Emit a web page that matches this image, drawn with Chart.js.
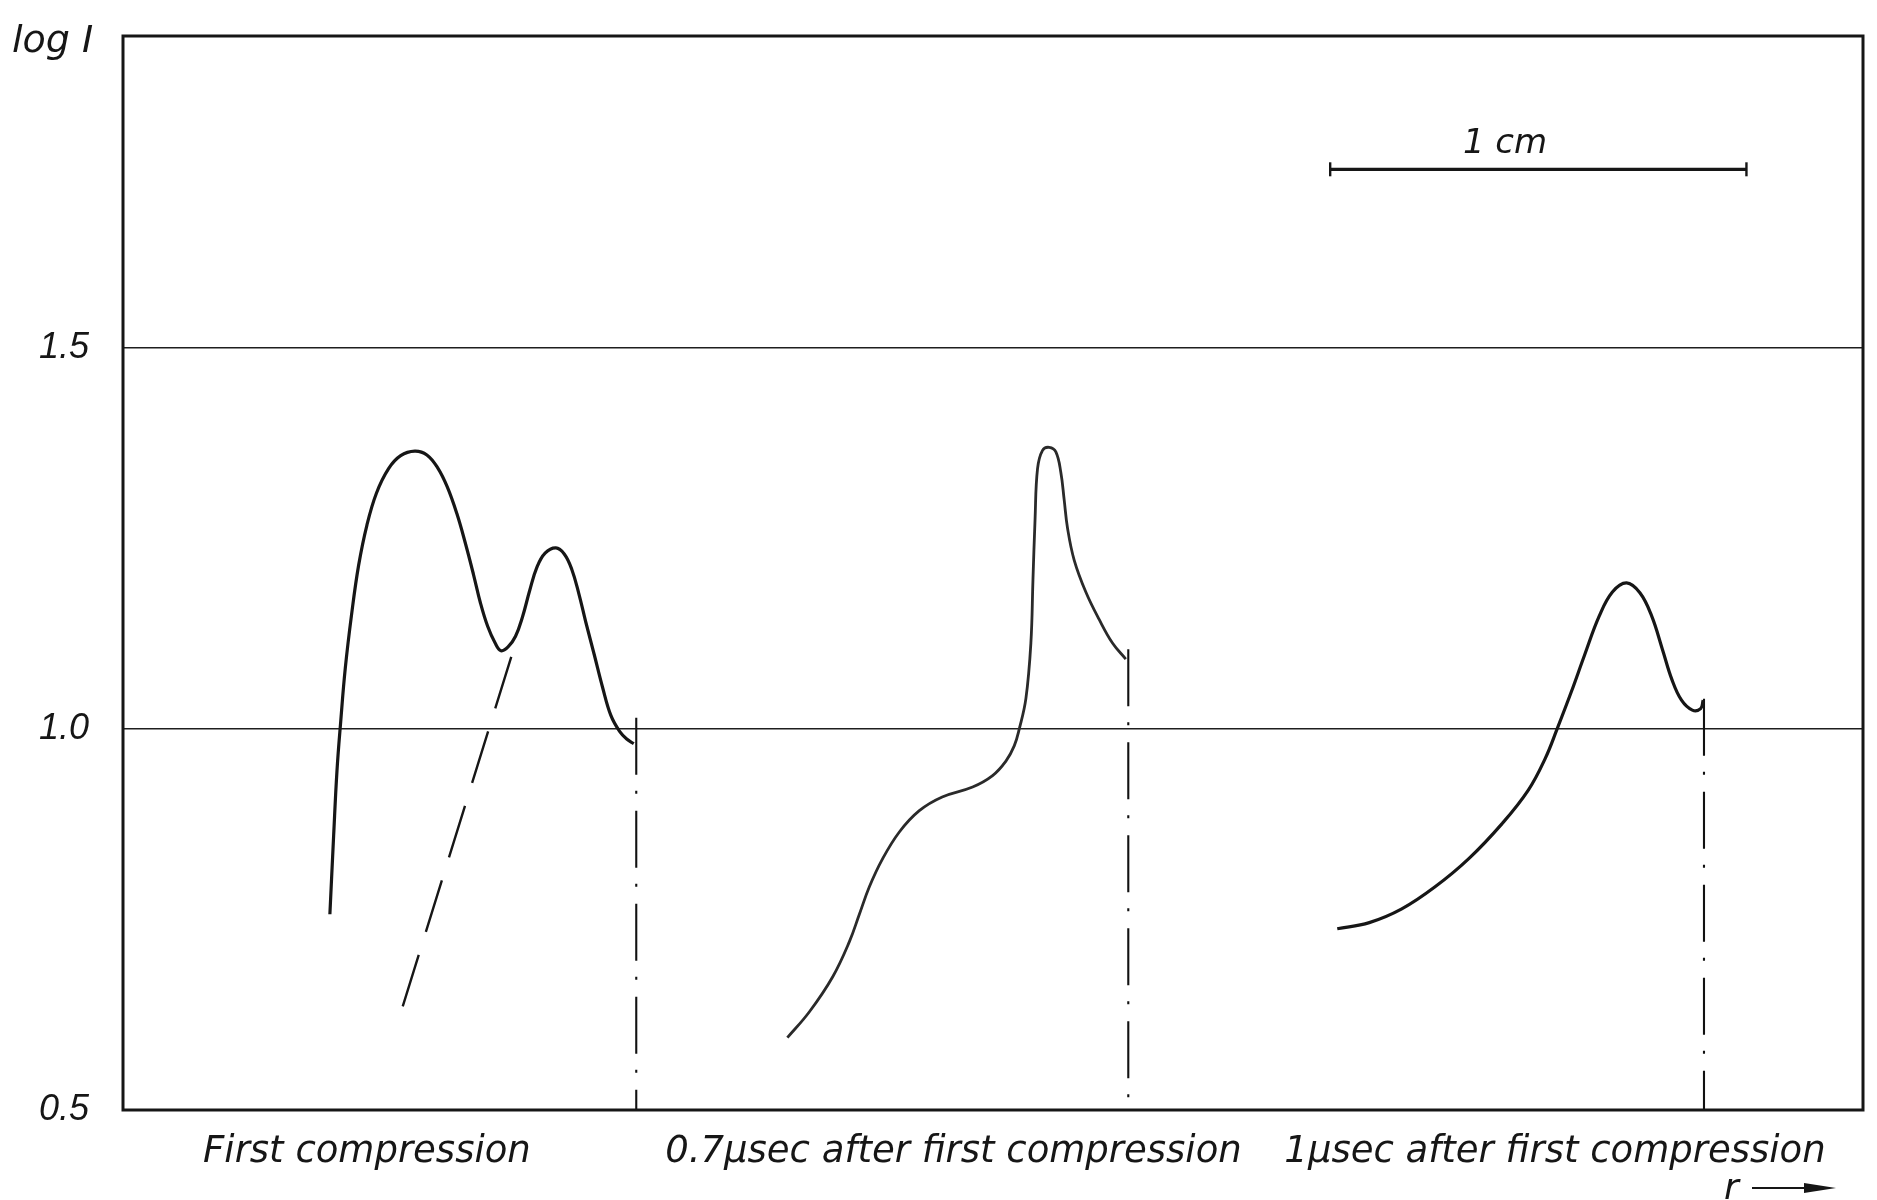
<!DOCTYPE html>
<html><head><meta charset="utf-8">
<script src="https://cdn.jsdelivr.net/npm/chart.js@4/dist/chart.umd.min.js"></script>
<style>html,body{margin:0;padding:0;background:#fff;}#wrap{width:1877px;height:1200px;}</style>
</head><body><div id="wrap"><canvas id="c" width="1877" height="1200"></canvas></div>
<script>
// radius r in mm (1 cm scale bar), log I values
const r1 = [4.97, 5.06, 5.14, 5.23, 5.34, 5.49, 5.66, 5.86, 6.09, 6.38, 6.67, 7.01, 7.30, 7.56, 7.79, 8.02, 8.22, 8.42, 8.59, 8.76, 8.94, 9.08, 9.25, 9.43, 9.60, 9.77, 9.94, 10.14, 10.40, 10.60, 10.78, 10.95, 11.12, 11.32, 11.52, 11.72, 11.93, 12.10, 12.27];
const logI1 = [0.757, 0.860, 0.945, 1.010, 1.080, 1.150, 1.215, 1.268, 1.310, 1.342, 1.359, 1.365, 1.360, 1.343, 1.318, 1.283, 1.245, 1.203, 1.165, 1.135, 1.113, 1.103, 1.108, 1.122, 1.148, 1.182, 1.212, 1.231, 1.238, 1.230, 1.210, 1.178, 1.140, 1.098, 1.055, 1.018, 0.997, 0.987, 0.981];
const extR = [6.72, 9.43];
const extLogI = [0.636, 1.113];
const r2 = [15.96, 16.49, 17.05, 17.45, 17.69, 17.93, 18.24, 18.65, 19.13, 19.68, 20.41, 20.89, 21.21, 21.41, 21.53, 21.69, 21.81, 21.86, 21.91, 21.97, 22.09, 22.25, 22.41, 22.53, 22.61, 22.69, 22.85, 23.13, 23.45, 23.77, 24.09];
const logI2 = [0.595, 0.629, 0.675, 0.721, 0.757, 0.793, 0.829, 0.865, 0.893, 0.911, 0.924, 0.939, 0.958, 0.978, 1.000, 1.040, 1.113, 1.196, 1.275, 1.342, 1.366, 1.370, 1.364, 1.337, 1.301, 1.264, 1.222, 1.180, 1.144, 1.113, 1.092];
const r3 = [29.17, 29.94, 30.72, 31.52, 32.33, 33.13, 33.76, 34.17, 34.45, 34.80, 35.11, 35.46, 35.78, 36.12, 36.44, 36.72, 36.98, 37.21, 37.44, 37.70, 37.90, 37.96];
const logI3 = [0.738, 0.746, 0.764, 0.793, 0.830, 0.876, 0.920, 0.962, 1.000, 1.050, 1.097, 1.148, 1.180, 1.192, 1.179, 1.149, 1.105, 1.065, 1.038, 1.025, 1.027, 1.038];
const dropR = [12.33, 24.15, 37.98];
const dropTop = [1.015, 1.105, 1.04];
const barR = [29.0, 39.0];
const barLogI = 1.735;
const barLabel = '1 cm';
const barLabelR = 33.2;
const yMin = 0.5, yMax = 1.91, xMin = 0, xMax = 41.8;
const yTickValues = [0.5, 1.0, 1.5];
const yTickLabels = ['0.5', '1.0', '1.5'];
const groupCentres = [5.86, 19.95, 34.40];
const groupLabels = ['First compression', '0.7\u00b5sec after first compression', '1\u00b5sec after first compression'];
const yTitle = 'log I';
const xTitle = 'r';

const pts = (xs, ys) => xs.map((x, i) => ({x: x, y: ys[i]}));
const INK = '#161616';
const FONT = 'DejaVu Sans';

const datasets = [
  {data: pts(r1, logI1), borderColor: INK, borderWidth: 3.2, tension: 0.4},
  {data: pts(extR, extLogI), borderColor: INK, borderWidth: 2.4, borderDash: [54, 24]},
  {data: pts(r2, logI2), borderColor: '#2a2a2a', borderWidth: 2.8, tension: 0.4},
  {data: pts(r3, logI3), borderColor: INK, borderWidth: 3.2, tension: 0.4}
];
dropR.forEach((x, i) => datasets.push({
  data: [{x: x, y: dropTop[i]}, {x: x, y: yMin}], borderColor: '#111', borderWidth: 2.1, borderDash: [57, 16, 3, 17]
}));
datasets.push({
  data: pts(barR, barR.map(() => barLogI)), borderColor: INK, borderWidth: 3.2,
  pointStyle: 'line', rotation: 90, pointRadius: 7, pointBorderWidth: 2.4, pointBorderColor: INK
});

const extras = {
  id: 'extras',
  afterDraw(chart) {
    const {ctx, chartArea: a, scales: {x, y}} = chart;
    ctx.save();
    ctx.strokeStyle = INK; ctx.lineWidth = 3;
    ctx.strokeRect(a.left, a.top, a.right - a.left, a.bottom - a.top);
    ctx.fillStyle = INK;
    ctx.font = 'italic 38px "' + FONT + '"';
    ctx.textAlign = 'left'; ctx.textBaseline = 'alphabetic';
    ctx.fillText(yTitle, 12, 52);
    ctx.font = 'italic 34px "' + FONT + '"';
    ctx.textAlign = 'center';
    ctx.fillText(barLabel, x.getPixelForValue(barLabelR), y.getPixelForValue(barLogI) - 16);
    // r arrow
    ctx.font = 'italic 36px "' + FONT + '"';
    ctx.textAlign = 'left';
    ctx.fillText(xTitle, 1724, 1199);
    ctx.lineWidth = 2.2;
    ctx.beginPath(); ctx.moveTo(1752, 1188); ctx.lineTo(1812, 1188); ctx.stroke();
    ctx.beginPath(); ctx.moveTo(1804, 1183); ctx.lineTo(1836, 1188); ctx.lineTo(1804, 1193); ctx.closePath(); ctx.fill();
    ctx.restore();
  }
};

new Chart(document.getElementById('c'), {
  type: 'line',
  data: {datasets: datasets},
  options: {
    responsive: false, animation: false,
    layout: {padding: {top: 36, right: 14, left: 0, bottom: 0}},
    elements: {point: {radius: 0}},
    plugins: {legend: {display: false}, tooltip: {enabled: false}},
    scales: {
      x: {
        type: 'linear', min: xMin, max: xMax,
        afterFit(s) { s.height = 90; s.paddingLeft = 0; s.paddingRight = 0; },
        afterBuildTicks(s) { s.ticks = groupCentres.map(v => ({value: v})); },
        grid: {display: false, drawTicks: false},
        border: {display: false},
        ticks: {autoSkip: false, maxRotation: 0, padding: 20, color: INK,
          font: {family: FONT, size: 37, style: 'italic'},
          callback: (v, i) => groupLabels[i]}
      },
      y: {
        type: 'linear', min: yMin, max: yMax,
        afterFit(s) { s.width = 123; s.paddingTop = 0; s.paddingBottom = 0; },
        afterBuildTicks(s) { s.ticks = yTickValues.map(v => ({value: v})); },
        grid: {drawTicks: false, lineWidth: 1.6,
          color: c => (c.tick && c.tick.value === yMin) ? 'rgba(0,0,0,0)' : '#1e1e1e'},
        border: {display: false},
        ticks: {padding: 34, color: INK, font: {family: 'Liberation Sans', size: 36, style: 'italic'},
          callback: (v, i) => yTickLabels[i]}
      }
    }
  },
  plugins: [extras]
});
</script>
</body></html>
